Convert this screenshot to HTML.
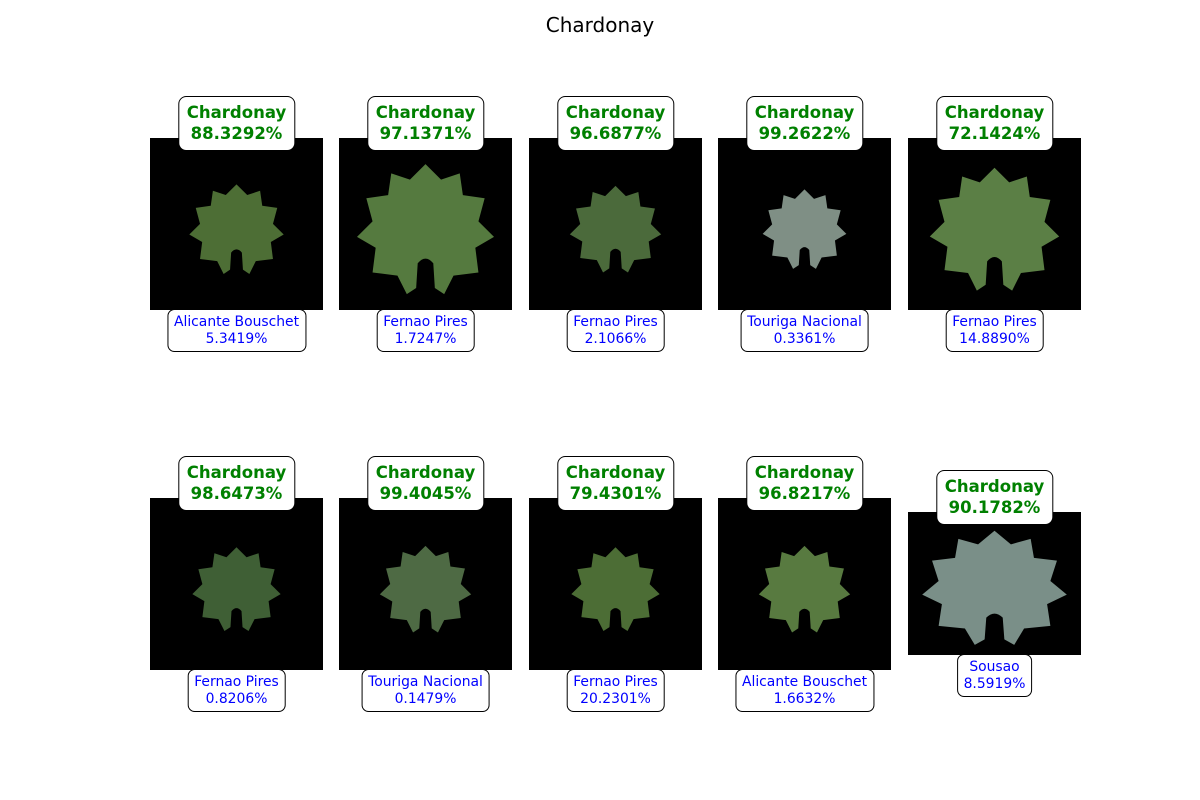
<!DOCTYPE html>
<html><head><meta charset="utf-8">
<style>
body{margin:0;width:1200px;height:800px;background:#fff;font-family:"DejaVu Sans","Liberation Sans",sans-serif;position:relative;overflow:hidden}
.title{position:absolute;top:13px;left:0;width:1200px;text-align:center;font-size:20px;color:#000}
.panel{position:absolute;background:#000}
.panel svg{width:100%;height:100%;display:block}
.top{position:absolute;transform:translateX(-50%);background:#fff;border:1px solid #000;border-radius:8px;padding:6px 8px;text-align:center;color:#008000;font-weight:bold;font-size:16.5px;line-height:20.5px;white-space:nowrap}
.bot{position:absolute;transform:translateX(-50%);background:#fff;border:1px solid #000;border-radius:7px;padding:4px 6px;text-align:center;color:#0000ff;font-size:13.9px;line-height:16.5px;white-space:nowrap}
</style></head><body>
<div class="title">Chardonay</div>
<script>
const topNames=["Chardonay","Chardonay","Chardonay","Chardonay","Chardonay","Chardonay","Chardonay","Chardonay","Chardonay","Chardonay"];
const topProbs=["88.3292%","97.1371%","96.6877%","99.2622%","72.1424%","98.6473%","99.4045%","79.4301%","96.8217%","90.1782%"];
const botNames=["Alicante Bouschet","Fernao Pires","Fernao Pires","Touriga Nacional","Fernao Pires","Fernao Pires","Touriga Nacional","Fernao Pires","Alicante Bouschet","Sousao"];
const botProbs=["5.3419%","1.7247%","2.1066%","0.3361%","14.8890%","0.8206%","0.1479%","20.2301%","1.6632%","8.5919%"];
const leafScale=[0.62,0.9,0.6,0.55,0.85,0.58,0.6,0.58,0.6,0.95];
const leafColor=["#4d6e35","#557a3f","#4b6a3b","#7f8f85","#5b7f45","#3f5f35","#4e6a44","#4c6d35","#587a40","#7a8f88"];
const colX=[150,339,529,718,908];
const leafPath="M50,8 L60,18 L72,14 L74,28 L88,30 L84,45 L94,55 L82,62 L84,78 L68,80 L62,92 L56,88 L55,72 Q50,66 45,72 L44,88 L38,92 L32,80 L16,78 L18,62 L6,55 L16,45 L12,30 L26,28 L28,14 L40,18 Z";
for(let i=0;i<10;i++){
  const row=Math.floor(i/5), col=i%5;
  let x=colX[col], w=173, y=row?498:138, h=172;
  if(i===9){y=512;h=143;}
  const cx=x+w/2;
  const p=document.createElement('div');
  p.className='panel';
  
  
  p.style.cssText=`left:${x}px;top:${y}px;width:${w}px;height:${h}px`;
  const s=leafScale[i];
  p.innerHTML=`<svg viewBox="0 0 100 100" preserveAspectRatio="none"><path d="${leafPath}" fill="${leafColor[i]}" transform="translate(${50-50*s},${50-50*s+3}) scale(${s})"/></svg>`;
  document.body.appendChild(p);
  const t=document.createElement('div');
  t.className='top';
  
  
  t.style.left=cx+'px';
  t.style.top=(y-42)+'px';
  t.innerHTML=topNames[i]+'<br>'+topProbs[i];
  document.body.appendChild(t);
  const b=document.createElement('div');
  b.className='bot';
  
  
  b.style.left=cx+'px';
  b.style.top=(y+h-1)+'px';
  b.innerHTML=botNames[i]+'<br>'+botProbs[i];
  document.body.appendChild(b);
}
</script>
</body></html>
